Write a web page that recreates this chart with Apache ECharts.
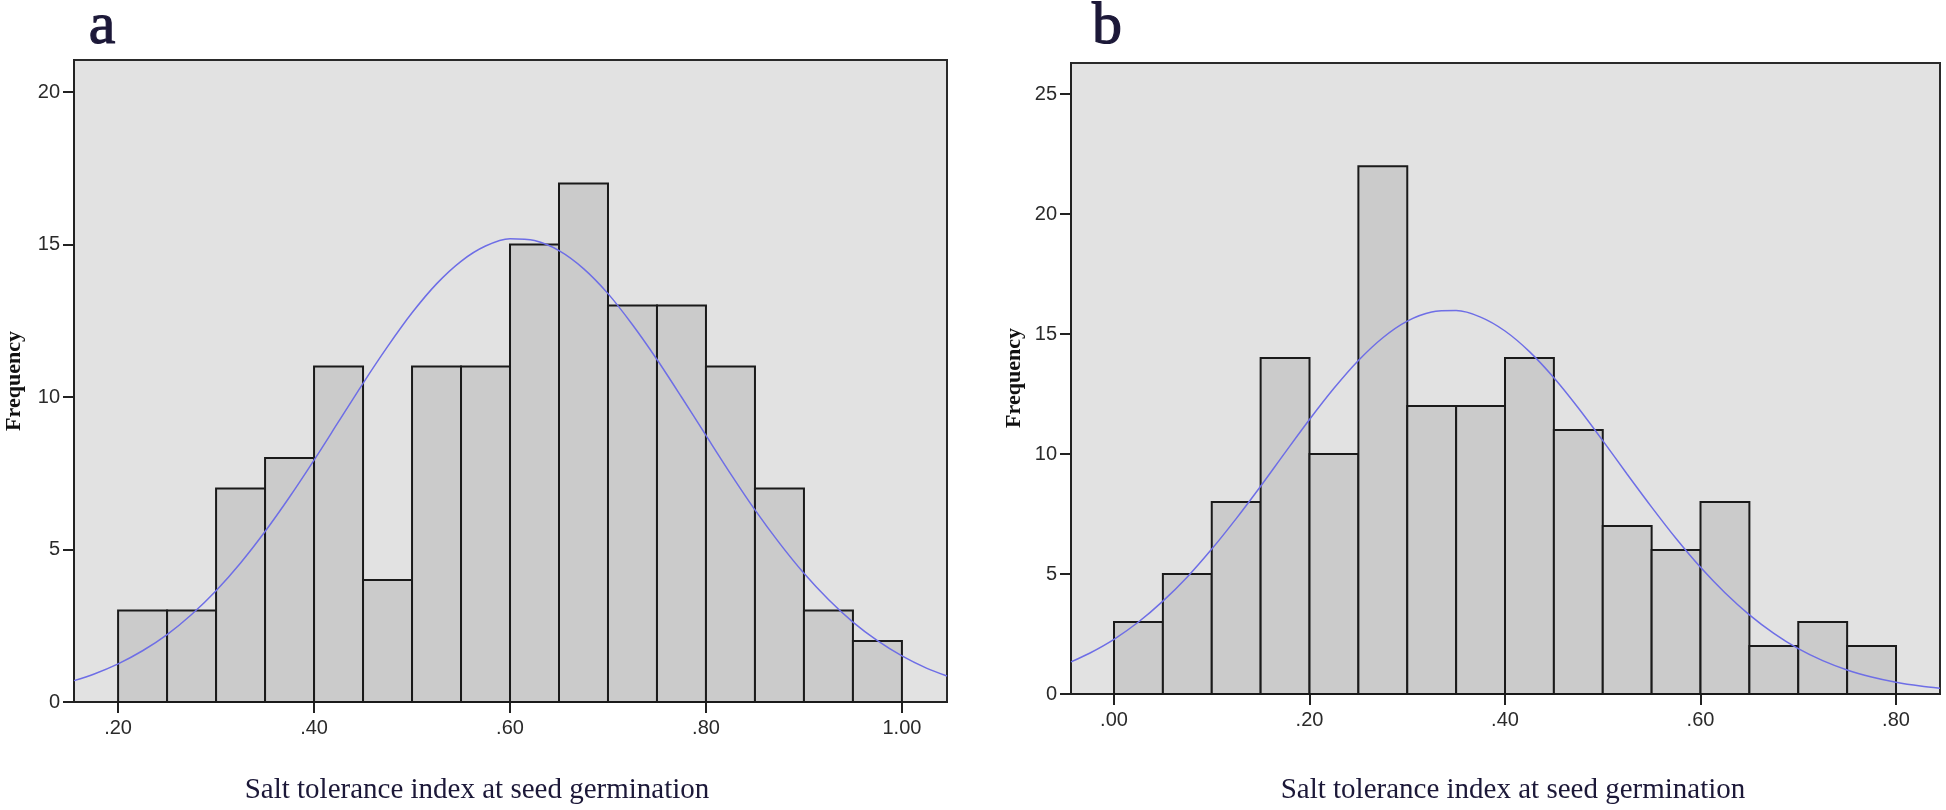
<!DOCTYPE html>
<html>
<head lang="en">
    <meta charset="UTF-8">
    <title>Salt tolerance index histograms</title>
    <script type="text/javascript" src="https://cdn.jsdelivr.net/npm/echarts@6/dist/echarts.min.js"></script>
    <style>
        body { margin: 0; background: #fff; }
        #chart { width: 1946px; height: 810px; }
    </style>
</head>
<body>
<div id="chart"></div>

<script type="text/javascript">
    // histogram bins (start of each bin), width 0.05
    var binWidth = 0.05;
    var binStartA = [0.20, 0.25, 0.30, 0.35, 0.40, 0.45, 0.50, 0.55, 0.60, 0.65, 0.70, 0.75, 0.80, 0.85, 0.90, 0.95];
    var countA = [3, 3, 7, 8, 11, 4, 11, 11, 15, 17, 13, 13, 11, 7, 3, 2];
    var binStartB = [0.00, 0.05, 0.10, 0.15, 0.20, 0.25, 0.30, 0.35, 0.40, 0.45, 0.50, 0.55, 0.60, 0.65, 0.70, 0.75];
    var countB = [3, 5, 8, 14, 10, 22, 12, 12, 14, 11, 7, 6, 8, 2, 3, 2];

    // normal curve
    var curveXA = [0.155, 0.175, 0.20, 0.225, 0.25, 0.275, 0.30, 0.325, 0.35, 0.375, 0.40, 0.425, 0.45, 0.475, 0.50, 0.525, 0.55, 0.575, 0.60,
        0.625, 0.65, 0.675, 0.70, 0.725, 0.75, 0.775, 0.80, 0.825, 0.85, 0.875, 0.90, 0.925, 0.95, 0.975, 1.00, 1.025, 1.046];
    var curveYA = [0.70, 0.91, 1.25, 1.68, 2.21, 2.87, 3.65, 4.56, 5.59, 6.72, 7.93, 9.19, 10.45, 11.65, 12.76, 13.71, 14.45, 14.95, 15.19,
        15.13, 14.80, 14.21, 13.39, 12.37, 11.23, 10.00, 8.74, 7.49, 6.30, 5.21, 4.22, 3.36, 2.62, 2.01, 1.51, 1.11, 0.85];
    var curveXB = [-0.044, -0.025, 0.00, 0.025, 0.05, 0.075, 0.10, 0.125, 0.15, 0.175, 0.20, 0.225, 0.25, 0.275, 0.30, 0.325, 0.35, 0.375, 0.40,
        0.425, 0.45, 0.475, 0.50, 0.525, 0.55, 0.575, 0.60, 0.625, 0.65, 0.675, 0.70, 0.725, 0.75, 0.775, 0.80, 0.825, 0.845];
    var curveYB = [1.34, 1.70, 2.28, 3.00, 3.87, 4.88, 6.04, 7.31, 8.66, 10.06, 11.44, 12.74, 13.90, 14.85, 15.54, 15.92, 15.98, 15.71, 15.13,
        14.27, 13.18, 11.92, 10.56, 9.16, 7.79, 6.48, 5.28, 4.22, 3.30, 2.53, 1.89, 1.39, 1.00, 0.71, 0.49, 0.33, 0.24];

    // tick labels
    var xTicksA = [0.20, 0.40, 0.60, 0.80, 1.00];
    var xTicksB = [0.00, 0.20, 0.40, 0.60, 0.80];
    var yTicksA = [0, 5, 10, 15, 20];
    var yTicksB = [0, 5, 10, 15, 20, 25];

    var xTitle = 'Salt tolerance index at seed germination';
    var yTitle = 'Frequency';

    function bars(starts, counts) {
        var out = [];
        for (var i = 0; i < starts.length; i++) {
            out.push([starts[i], starts[i] + binWidth, counts[i]]);
        }
        return out;
    }

    function pairs(xs, ys) {
        var out = [];
        for (var i = 0; i < xs.length; i++) {
            out.push([xs[i], ys[i]]);
        }
        return out;
    }

    function renderBar(params, api) {
        var p0 = api.coord([api.value(0), api.value(2)]);
        var p1 = api.coord([api.value(1), 0]);
        return {
            type: 'rect',
            shape: {x: p0[0], y: p0[1], width: p1[0] - p0[0], height: p1[1] - p0[1]},
            style: {fill: '#cbcbcb', stroke: '#1a1a1a', lineWidth: 2}
        };
    }

    function fmtX(v) {
        var s = Number(v).toFixed(2);
        return s.charAt(0) === '0' ? s.slice(1) : s;
    }

    var tickFont = {fontFamily: '"Liberation Sans", Arial, sans-serif', fontSize: 20, color: '#2a2a2a'};

    function xAxis(idx, min, max, ticks) {
        return {
            type: 'value', gridIndex: idx, min: min, max: max,
            axisLine: {show: true, onZero: false, lineStyle: {color: '#222', width: 2}},
            axisTick: {show: true, length: 11, lineStyle: {color: '#222', width: 2}, customValues: ticks},
            axisLabel: Object.assign({margin: 16, formatter: fmtX, customValues: ticks}, tickFont),
            splitLine: {show: false}
        };
    }

    function yAxis(idx, max, ticks) {
        return {
            type: 'value', gridIndex: idx, min: 0, max: max,
            axisLine: {show: true, onZero: false, lineStyle: {color: '#222', width: 2}},
            axisTick: {show: true, length: 11, lineStyle: {color: '#222', width: 2}, customValues: ticks},
            axisLabel: Object.assign({margin: 14, customValues: ticks}, tickFont),
            splitLine: {show: false}
        };
    }

    function label(x, y, text, font, fill, rot, thick) {
        return {
            type: 'text', x: x, y: y, rotation: rot || 0,
            style: {
                text: text, font: font, fill: fill,
                stroke: thick ? fill : null, lineWidth: thick || 0,
                align: 'center', verticalAlign: 'middle',
                textAlign: 'center', textVerticalAlign: 'middle'
            }
        };
    }

    var serif = '"Liberation Serif", "Times New Roman", serif';
    var navy = '#1c1838';

    var chart = echarts.init(document.getElementById('chart'));
    chart.setOption({
        animation: false,
        backgroundColor: '#fff',
        grid: [
            {left: 74, top: 60, width: 873, height: 642, show: true, backgroundColor: '#e2e2e2', borderColor: '#2a2a2a', borderWidth: 2},
            {left: 1071, top: 63, width: 869, height: 631, show: true, backgroundColor: '#e2e2e2', borderColor: '#2a2a2a', borderWidth: 2}
        ],
        xAxis: [
            xAxis(0, 0.155, 1.046, xTicksA),
            xAxis(1, -0.044, 0.845, xTicksB)
        ],
        yAxis: [
            yAxis(0, 21.05, yTicksA),
            yAxis(1, 26.3, yTicksB)
        ],
        graphic: [
            label(102, 27, 'a', '60px ' + serif, navy, 0, 1.2),
            label(1107, 27, 'b', '60px ' + serif, navy, 0, 1.2),
            label(477, 790, xTitle, '29px ' + serif, navy),
            label(1513, 790, xTitle, '29px ' + serif, navy),
            label(14, 381, yTitle, 'bold 22px ' + serif, '#111', Math.PI / 2),
            label(1014, 378, yTitle, 'bold 22px ' + serif, '#111', Math.PI / 2)
        ],
        series: [
            {
                type: 'custom', xAxisIndex: 0, yAxisIndex: 0,
                renderItem: renderBar, encode: {x: [0, 1], y: 2},
                data: bars(binStartA, countA)
            },
            {
                type: 'line', xAxisIndex: 0, yAxisIndex: 0, smooth: 0.3, showSymbol: false,
                lineStyle: {color: '#6e6ee6', width: 1.5}, z: 5,
                data: pairs(curveXA, curveYA)
            },
            {
                type: 'custom', xAxisIndex: 1, yAxisIndex: 1,
                renderItem: renderBar, encode: {x: [0, 1], y: 2},
                data: bars(binStartB, countB)
            },
            {
                type: 'line', xAxisIndex: 1, yAxisIndex: 1, smooth: 0.3, showSymbol: false,
                lineStyle: {color: '#6e6ee6', width: 1.5}, z: 5,
                data: pairs(curveXB, curveYB)
            }
        ]
    });
</script>
</body>
</html>
